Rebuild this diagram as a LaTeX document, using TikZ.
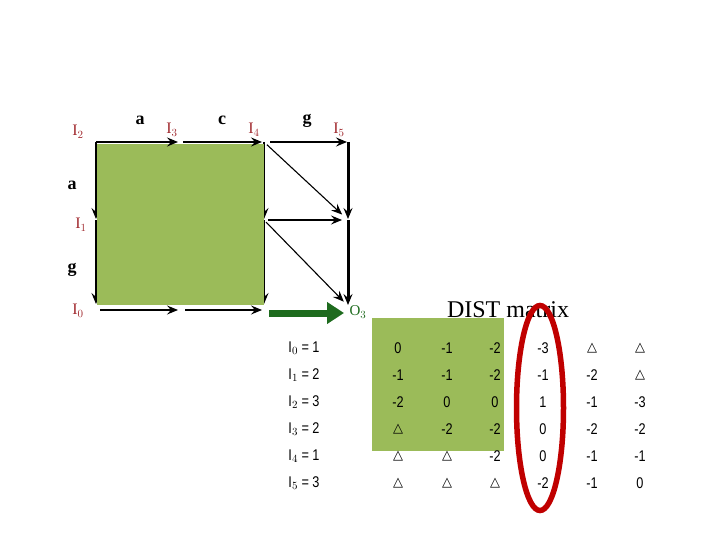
\documentclass[tikz,border=0pt]{standalone}
\usepackage{fontspec}
\setmainfont{Liberation Serif}
\newfontfamily\arialf[FakeStretch=0.82]{Liberation Sans}
\newfontfamily\djv{DejaVu Sans}
\usetikzlibrary{arrows.meta}
\definecolor{leaf}{HTML}{9BBB59}
\definecolor{lblred}{HTML}{A0282D}
\definecolor{ovalred}{HTML}{C00000}
\definecolor{dgreen}{HTML}{1E6B1E}
\tikzset{
  lbl/.style={text=lblred,font=\fontsize{16}{18}\selectfont,inner sep=0pt},
  sym/.style={font=\bfseries\fontsize{18}{20}\selectfont,inner sep=0pt},
  tip/.style={-{Stealth[length=11pt,width=9pt,inset=4pt]}},
  edge1/.style={tip,line width=1.1pt},
  edge2/.style={tip,line width=2pt},
  edge3/.style={tip,line width=3pt},
  cell/.style={font=\arialf\fontsize{15.5}{17}\selectfont,inner sep=0pt},
}
\newcommand{\tri}{{\djv\fontsize{13}{14}\selectfont △}}
\begin{document}
\begin{tikzpicture}[x=1pt,y=-1pt]
\useasboundingbox (0,0) rectangle (720,540);
% grid points
\coordinate (g20) at (96,142);
\coordinate (g21) at (180,142);
\coordinate (g22) at (264,142);
\coordinate (g23) at (348,142);
\coordinate (g10) at (96,220);
\coordinate (g12) at (264,220);
\coordinate (g13) at (348,220);
\coordinate (g00) at (96,305);
\coordinate (g02) at (264,305);
\coordinate (g03) at (348,306);
\coordinate (b0) at (98,310);
\coordinate (b1) at (182,310);
\coordinate (b2) at (264,310);
\coordinate (gs) at (269,313);
\coordinate (ge) at (344,313);
% vertical lines
\draw[edge1,shorten >=1pt] (g20) -- (g10);
\draw[edge1,shorten >=1pt] (g10) -- (g00);
\draw[edge1,shorten >=1pt] (g22) -- (g12);
\draw[edge1,shorten >=1pt] (g12) -- (g02);
% green block
\fill[leaf] (97,144) rectangle (264,305);
% top row
\draw[edge2,shorten >=2pt] (g20) -- (g21);
\draw[edge2,shorten <=3pt,shorten >=2pt] (g21) -- (g22);
\draw[edge2,shorten <=6pt,shorten >=1pt] (g22) -- (g23);
% right column
\draw[edge3,shorten >=1pt] (g23) -- (g13);
\draw[edge3,shorten >=1pt] (g13) -- (g03);
% diagonals and horizontal
\draw[edge1,shorten <=4pt,shorten >=8pt] (g22) -- (g13);
\draw[edge1,shorten <=4pt,shorten >=6pt] (g12) -- (g13);
\draw[edge1,shorten <=3pt,shorten >=6pt] (g12) -- (g03);
% bottom row
\draw[edge1,shorten <=2pt,shorten >=4pt] (b0) -- (b1);
\draw[edge1,shorten <=3pt,shorten >=2pt] (b1) -- (b2);
\draw[dgreen,line width=7pt,-{Triangle[length=17pt,width=21pt]}] (gs) -- (ge);
% labels
\node[lbl] (lI2) at (78,132) {I$_2$};
\node[sym] (la1) at (140,120) {a};
\node[lbl] (lI3) at (172,130) {I$_3$};
\node[sym] (lc) at (222,120) {c};
\node[lbl] (lI4) at (254,130) {I$_4$};
\node[sym] (lg1) at (307,121) {g};
\node[lbl] (lI5) at (339,130) {I$_5$};
\node[sym] (la2) at (72,185) {a};
\node[lbl] (lI1) at (81,225) {I$_1$};
\node[sym] (lg2) at (72,270) {g};
\node[lbl] (lI0) at (78,311) {I$_0$};
\node[text=dgreen,font=\fontsize{15}{17}\selectfont,inner sep=0pt] (lO3) at (358,312) {O$_3$};
% matrix
\fill[leaf] (372,318) rectangle (504,451);
\node[font=\fontsize{24}{26}\selectfont,inner sep=0pt] (title) at (508,310) {DIST matrix};
\foreach \r/\lab [count=\i from 0] in {
  {0}/{$_0$ = 1},{1}/{$_1$ = 2},{2}/{$_2$ = 3},{3}/{$_3$ = 2},{4}/{$_4$ = 1},{5}/{$_5$ = 3}}{
  \node[cell] (row\i) at (304,348+27*\i) {I\lab};
}
\foreach \a/\b/\c/\d/\e/\f [count=\i from 0] in {
  0/-1/-2/-3/\tri/\tri,
  -1/-1/-2/-1/-2/\tri,
  -2/0/0/1/-1/-3,
  \tri/-2/-2/0/-2/-2,
  \tri/\tri/-2/0/-1/-1,
  \tri/\tri/\tri/-2/-1/0}{
  \node[cell] (m\i a) at (398,348+27*\i) {\a};
  \node[cell] (m\i b) at (447,348+27*\i) {\b};
  \node[cell] (m\i c) at (495,348+27*\i) {\c};
  \node[cell] (m\i d) at (543,348+27*\i) {\d};
  \node[cell] (m\i e) at (592,348+27*\i) {\e};
  \node[cell] (m\i f) at (640,348+27*\i) {\f};
}
\draw[ovalred,line width=5.5pt] (540,408) ellipse [x radius=23.5, y radius=102.5];
\end{tikzpicture}
\end{document}
